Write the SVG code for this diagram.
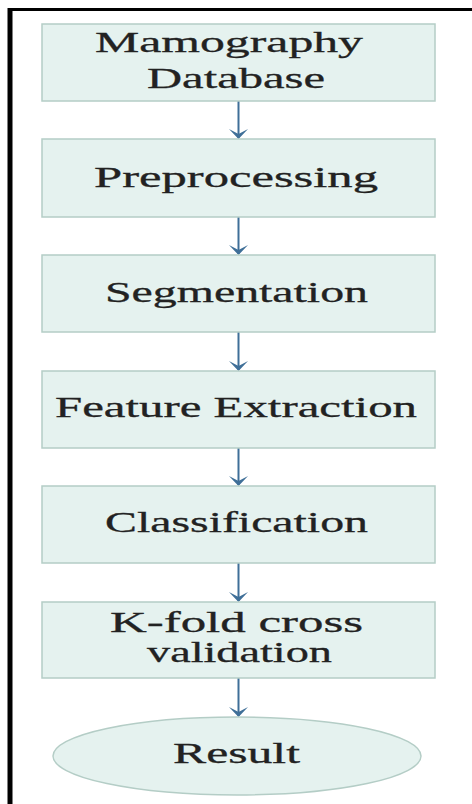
<svg xmlns="http://www.w3.org/2000/svg" width="472" height="804" viewBox="0 0 472 804">
<defs>
<style>
.box{fill:#e5f2ef;stroke:#b4cdc6;stroke-width:1.5}
.lbl{font-family:"Liberation Serif","Times New Roman",serif;font-size:29px;fill:#222;stroke:#222;stroke-width:0.3;text-anchor:middle}
.conn{stroke:#3f6f98;stroke-width:2;fill:none}
</style>
</defs>
<rect width="472" height="804" fill="#fff"/>
<g id="frame">
<line x1="9" y1="9.5" x2="472" y2="9.5" stroke="#000" stroke-width="3"/>
<line x1="10" y1="8" x2="10" y2="804" stroke="#000" stroke-width="5"/>
</g>
<g id="connectors">
<path class="conn" d="M238.5,101 V138"/>
<path class="conn" d="M238.5,217 V254"/>
<path class="conn" d="M238.5,332 V370"/>
<path class="conn" d="M238.5,448 V485"/>
<path class="conn" d="M238.5,563 V601"/>
<path class="conn" d="M238.5,678 V716"/>
<g fill="#3f6f98">
<path d="M229,129 L238.5,139 L248,129 L238.5,134 Z"/>
<path d="M229,245 L238.5,255 L248,245 L238.5,250 Z"/>
<path d="M229,361 L238.5,371 L248,361 L238.5,366 Z"/>
<path d="M229,476 L238.5,486 L248,476 L238.5,481 Z"/>
<path d="M229,592 L238.5,602 L248,592 L238.5,597 Z"/>
<path d="M229,707 L238.5,717 L248,707 L238.5,712 Z"/>
</g>
</g>
<g id="n1">
<rect class="box" x="42" y="24" width="393" height="77"/>
<text class="lbl" x="229" y="52" textLength="268" lengthAdjust="spacingAndGlyphs">Mamography</text>
<text class="lbl" x="236" y="88" textLength="178" lengthAdjust="spacingAndGlyphs">Database</text>
</g>
<g id="n2">
<rect class="box" x="42" y="139" width="393" height="78"/>
<text class="lbl" x="236" y="187" textLength="284" lengthAdjust="spacingAndGlyphs">Preprocessing</text>
</g>
<g id="n3">
<rect class="box" x="42" y="255" width="393" height="77"/>
<text class="lbl" x="236.5" y="302" textLength="263" lengthAdjust="spacingAndGlyphs">Segmentation</text>
</g>
<g id="n4">
<rect class="box" x="42" y="371" width="393" height="77"/>
<text class="lbl" x="236" y="417" textLength="362" lengthAdjust="spacingAndGlyphs">Feature Extraction</text>
</g>
<g id="n5">
<rect class="box" x="42" y="486" width="393" height="77"/>
<text class="lbl" x="236.5" y="532" textLength="263" lengthAdjust="spacingAndGlyphs">Classification</text>
</g>
<g id="n6">
<rect class="box" x="42" y="602" width="393" height="76"/>
<text class="lbl" x="236.5" y="632" textLength="253" lengthAdjust="spacingAndGlyphs">K-fold cross</text>
<text class="lbl" x="239.5" y="662" textLength="185" lengthAdjust="spacingAndGlyphs">validation</text>
</g>
<g id="n7">
<ellipse class="box" cx="237" cy="756" rx="184" ry="39"/>
<text class="lbl" x="236.5" y="763" textLength="127" lengthAdjust="spacingAndGlyphs">Result</text>
</g>
</svg>
